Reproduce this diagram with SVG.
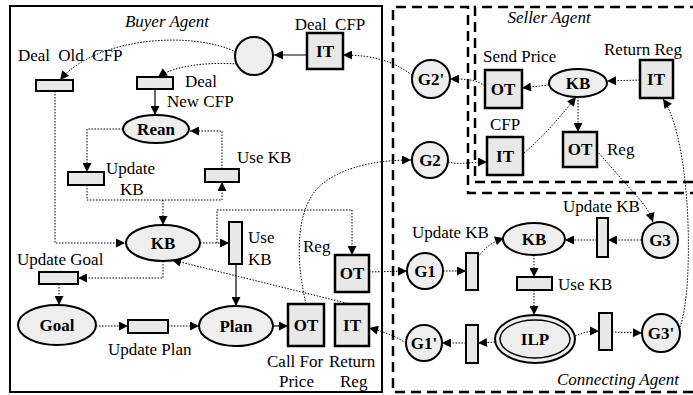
<svg xmlns="http://www.w3.org/2000/svg" width="693" height="395" viewBox="0 0 693 395" font-family="'Liberation Serif','DejaVu Serif',serif">
<defs>
<marker id="ah" viewBox="0 0 10 10" refX="10" refY="5" markerWidth="10" markerHeight="9" markerUnits="userSpaceOnUse" orient="auto">
<path d="M0,0 L10,5 L0,10 z" fill="#000"/>
</marker>
<style>
text{font-family:"Liberation Serif","DejaVu Serif",serif;font-size:17px;fill:#000}
.it{font-style:italic}
.c{text-anchor:middle}
.b{font-weight:bold}
.box{fill:#e8e8e8;stroke:#000;stroke-width:2.5}
.tr{fill:#e8e8e8;stroke:#000;stroke-width:2}
.pl{fill:#eeeeee;stroke:#000;stroke-width:2}
.dot{fill:none;stroke:#000;stroke-width:1;stroke-dasharray:1.5 1.5}
.sol{fill:none;stroke:#000;stroke-width:1.2}
.frame{fill:none;stroke:#000;stroke-width:2}
.dash{fill:none;stroke:#000;stroke-width:2.5;stroke-dasharray:10 6}
</style>
</defs>
<rect width="693" height="395" fill="#fff"/>

<g id="frames">
<rect class="frame" x="10" y="6" width="372" height="386"/>
<path class="dash" d="M700,193 L468,193 L468,7 L393,7 L393,392 L700,392"/>
<path class="dash" d="M700,7 L475,7 L475,182 L700,182"/>
<text class="it c" x="167" y="27">Buyer Agent</text>
<text class="it c" x="549" y="23">Seller Agent</text>
<text class="it c" x="618" y="385">Connecting Agent</text>
</g>

<g id="connectors">
<path class="sol" d="M307,55 L274,55" marker-end="url(#ah)"/>
<path class="dot" d="M412,75 C392,60 370,55 343,55" marker-end="url(#ah)"/>
<path class="dot" d="M485,86 C475,79 465,79 450,79" marker-end="url(#ah)"/>
<path class="dot" d="M448,162 C460,165 470,162 487,162" marker-end="url(#ah)"/>
<path class="dot" d="M306,304 C294,252 297,205 322,184 C345,166 378,160 411,160" marker-end="url(#ah)"/>
<path class="dot" d="M369,272 L407,271" marker-end="url(#ah)"/>
<path class="dot" d="M406,343 C395,336 385,332 369,328" marker-end="url(#ah)"/>
<path class="dot" d="M549,85 L522,88" marker-end="url(#ah)"/>
<path class="dot" d="M640,80 L607,81" marker-end="url(#ah)"/>
<path class="dot" d="M524,153 C545,135 560,117 576,97" marker-end="url(#ah)"/>
<path class="dot" d="M578,97 L578,132" marker-end="url(#ah)"/>
<path class="dot" d="M597,151 L633,192 C643,203 649,210 653,222" marker-end="url(#ah)"/>
<path class="dot" d="M641,240 L608,240" marker-end="url(#ah)"/>
<path class="dot" d="M597,240 L565,240" marker-end="url(#ah)"/>
<path class="dot" d="M443,271 L466,271" marker-end="url(#ah)"/>
<path class="dot" d="M478,257 C485,248 492,242 504,238" marker-end="url(#ah)"/>
<path class="dot" d="M534,255 L534,277" marker-end="url(#ah)"/>
<path class="dot" d="M534,290 L534,315" marker-end="url(#ah)"/>
<path class="dot" d="M575,336 C585,332 590,331 599,331" marker-end="url(#ah)"/>
<path class="dot" d="M612,332 L642,333" marker-end="url(#ah)"/>
<path class="dot" d="M680,327 C694,290 692,140 663,99" marker-end="url(#ah)"/>
<path class="dot" d="M495,342 L478,343" marker-end="url(#ah)"/>
<path class="dot" d="M466,343 L442,343" marker-end="url(#ah)"/>
<path class="dot" d="M236,52 C190,30 95,38 60,80" marker-end="url(#ah)"/>
<path class="dot" d="M237,64 C210,62 175,65 158,77" marker-end="url(#ah)"/>
<path class="sol" d="M155,89 L155,115" marker-end="url(#ah)"/>
<path class="dot" d="M123,129 L87,129 L87,172" marker-end="url(#ah)"/>
<path class="dot" d="M222,169 L222,131 L190,131" marker-end="url(#ah)"/>
<path class="dot" d="M87,185 L87,200 L222,200 L222,182" marker-end="url(#ah)"/>
<path class="dot" d="M163,200 L163,225" marker-end="url(#ah)"/>
<path class="dot" d="M55,91 L55,243 L125,243" marker-end="url(#ah)"/>
<path class="dot" d="M200,243 L229,243" marker-end="url(#ah)"/>
<path class="dot" d="M217,243 L217,210 L352,210 L352,255" marker-end="url(#ah)"/>
<path class="sol" d="M236,264 L236,306" marker-end="url(#ah)"/>
<path class="dot" d="M163,261 L163,278 L78,278" marker-end="url(#ah)"/>
<path class="dot" d="M59,284 L59,305" marker-end="url(#ah)"/>
<path class="dot" d="M96,326 L128,326" marker-end="url(#ah)"/>
<path class="dot" d="M168,326 L199,326" marker-end="url(#ah)"/>
<path class="sol" d="M273,326 L288,326" marker-end="url(#ah)"/>
<path class="dot" d="M350,304 L172,260" marker-end="url(#ah)"/>
</g>

<g id="place-cfp"><circle class="pl" cx="254" cy="56" r="19"/></g>
<g id="it-deal-cfp"><rect class="box" x="307" y="33" width="36" height="36"/><text class="c b" x="325" y="57">IT</text><text class="c" x="330" y="30" word-spacing="4">Deal CFP</text></g>
<g id="deal-old-cfp"><rect class="tr" x="36" y="80" width="37" height="11"/><text x="18" y="61" word-spacing="4">Deal Old CFP</text></g>
<g id="deal-new-cfp"><rect class="tr" x="137" y="77" width="36" height="12"/><text x="185" y="87">Deal</text><text x="167" y="107">New CFP</text></g>
<g id="rean"><ellipse class="pl" cx="156" cy="129" rx="33" ry="14"/><text class="c b" x="156" y="135">Rean</text></g>
<g id="update-kb-b"><rect class="tr" x="68" y="172" width="36" height="13"/><text x="106" y="174">Update</text><text x="120" y="195">KB</text></g>
<g id="use-kb-b1"><rect class="tr" x="205" y="169" width="34" height="13"/><text x="237" y="163">Use KB</text></g>
<g id="kb-b"><ellipse class="pl" cx="163" cy="243" rx="37" ry="18"/><text class="c b" x="163" y="249">KB</text></g>
<g id="use-kb-b2"><rect class="tr" x="229" y="222" width="13" height="42"/><text x="248" y="243">Use</text><text x="248" y="265">KB</text></g>
<g id="ot-reg-b"><rect class="box" x="335" y="255" width="34" height="37"/><text class="c b" x="352" y="279">OT</text><text x="303" y="252">Reg</text></g>
<g id="update-goal"><rect class="tr" x="39" y="272" width="39" height="12"/><text x="17" y="265">Update Goal</text></g>
<g id="goal"><ellipse class="pl" cx="57" cy="325" rx="39" ry="20"/><text class="c b" x="57" y="331">Goal</text></g>
<g id="update-plan"><rect class="tr" x="128" y="320" width="40" height="13"/><text x="108" y="355">Update Plan</text></g>
<g id="plan"><ellipse class="pl" cx="236" cy="326" rx="37" ry="20"/><text class="c b" x="236" y="332">Plan</text></g>
<g id="ot-call"><rect class="box" x="288" y="304" width="36" height="42"/><text class="c b" x="306" y="331">OT</text><text x="267" y="367">Call For</text><text x="279" y="387">Price</text></g>
<g id="it-return-b"><rect class="box" x="335" y="304" width="34" height="42"/><text class="c b" x="352" y="331">IT</text><text x="329" y="367">Return</text><text x="340" y="387">Reg</text></g>

<g id="g2p"><circle class="pl" cx="431" cy="79" r="19"/><text class="c b" x="431" y="85">G2'</text></g>
<g id="g2"><circle class="pl" cx="430" cy="160" r="18"/><text class="c b" x="430" y="166">G2</text></g>
<g id="ot-send"><rect class="box" x="485" y="70" width="37" height="38"/><text class="c b" x="503" y="95">OT</text><text x="483" y="62">Send Price</text></g>
<g id="kb-s"><ellipse class="pl" cx="578" cy="83" rx="29" ry="14"/><text class="c b" x="578" y="89">KB</text></g>
<g id="it-return-s"><rect class="box" x="640" y="60" width="33" height="38"/><text class="c b" x="656" y="85">IT</text><text x="604" y="55">Return Reg</text></g>
<g id="it-cfp"><rect class="box" x="487" y="137" width="36" height="38"/><text class="c b" x="505" y="162">IT</text><text class="c" x="505" y="130">CFP</text></g>
<g id="ot-reg-s"><rect class="box" x="563" y="132" width="34" height="35"/><text class="c b" x="580" y="155">OT</text><text x="607" y="155">Reg</text></g>

<g id="g1"><circle class="pl" cx="425" cy="271" r="18"/><text class="c b" x="425" y="277">G1</text></g>
<g id="update-kb-c1"><rect class="tr" x="466" y="253" width="12" height="37"/><text x="412" y="238">Update KB</text></g>
<g id="kb-c"><ellipse class="pl" cx="534" cy="239" rx="31" ry="16"/><text class="c b" x="534" y="245">KB</text></g>
<g id="update-kb-c2"><rect class="tr" x="597" y="218" width="11" height="39"/><text x="563" y="212">Update KB</text></g>
<g id="g3"><circle class="pl" cx="660" cy="240" r="18"/><text class="c b" x="660" y="246">G3</text></g>
<g id="use-kb-c"><rect class="tr" x="517" y="277" width="35" height="13"/><text x="558" y="290">Use KB</text></g>
<g id="ilp"><ellipse class="pl" cx="535" cy="339" rx="40" ry="24" stroke-width="2.5"/><ellipse fill="none" stroke="#000" stroke-width="1.5" cx="535" cy="339" rx="35" ry="19"/><text class="c b" x="535" y="345">ILP</text></g>
<g id="tr-c-right"><rect class="tr" x="599" y="313" width="13" height="37"/></g>
<g id="g3p"><circle class="pl" cx="661" cy="333" r="19"/><text class="c b" x="661" y="339">G3'</text></g>
<g id="tr-c-left"><rect class="tr" x="466" y="325" width="12" height="38"/></g>
<g id="g1p"><circle class="pl" cx="424" cy="343" r="18"/><text class="c b" x="424" y="349">G1'</text></g>
</svg>
